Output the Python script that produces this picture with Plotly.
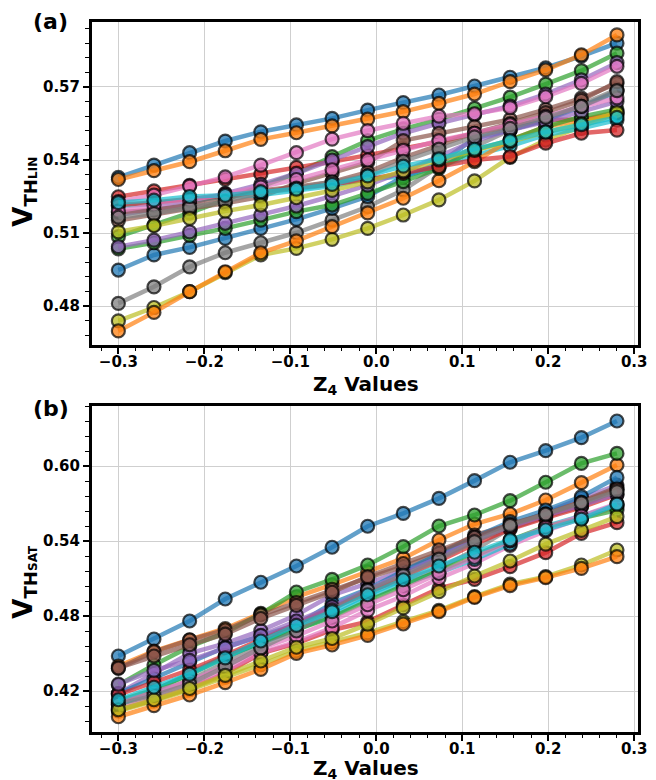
import plotly.graph_objects as go

# ---------------- data ----------------
z4_values = [-0.3, -0.2586, -0.2171, -0.1757, -0.1343, -0.0929, -0.0514, -0.01,
             0.0314, 0.0729, 0.1143, 0.1557, 0.1971, 0.2386, 0.28]

colors = ['#1f77b4', '#ff7f0e', '#2ca02c', '#d62728', '#9467bd',
          '#8c564b', '#e377c2', '#7f7f7f', '#bcbd22', '#17becf']

# (a) V_TH_LIN series
vth_lin = [
    [0.5329, 0.5379, 0.5430, 0.5478, 0.5516, 0.5544, 0.5571, 0.5605, 0.5636, 0.5667, 0.5704, 0.5740, 0.5779, 0.5827, 0.5880],
    [0.5320, 0.5356, 0.5393, 0.5438, 0.5485, 0.5512, 0.5540, 0.5568, 0.5599, 0.5633, 0.5671, 0.5722, 0.5770, 0.5832, 0.5914],
    [0.5085, 0.5133, 0.5183, 0.5236, 0.5290, 0.5345, 0.5414, 0.5480, 0.5527, 0.5567, 0.5612, 0.5658, 0.5712, 0.5767, 0.5839],
    [0.5249, 0.5273, 0.5296, 0.5321, 0.5342, 0.5370, 0.5393, 0.5420, 0.5448, 0.5475, 0.5510, 0.5537, 0.5564, 0.5566, 0.5585],
    [0.5174, 0.5195, 0.5220, 0.5263, 0.5300, 0.5345, 0.5400, 0.5455, 0.5510, 0.5551, 0.5585, 0.5622, 0.5671, 0.5729, 0.5800],
    [0.5151, 0.5178, 0.5201, 0.5222, 0.5249, 0.5304, 0.5345, 0.5390, 0.5480, 0.5510, 0.5537, 0.5567, 0.5608, 0.5654, 0.5715],
    [0.5229, 0.5256, 0.5293, 0.5331, 0.5379, 0.5430, 0.5486, 0.5521, 0.5551, 0.5580, 0.5590, 0.5615, 0.5660, 0.5715, 0.5785],
    [0.4811, 0.4879, 0.4961, 0.5019, 0.5060, 0.5101, 0.5153, 0.5208, 0.5277, 0.5373, 0.5455, 0.5523, 0.5564, 0.5626, 0.5690],
    [0.4739, 0.4794, 0.4859, 0.4937, 0.5010, 0.5037, 0.5074, 0.5119, 0.5174, 0.5236, 0.5314, 0.5411, 0.5482, 0.5537, 0.5592],
    [0.5211, 0.5219, 0.5233, 0.5249, 0.5256, 0.5274, 0.5293, 0.5323, 0.5331, 0.5373, 0.5420, 0.5457, 0.5503, 0.5530, 0.5564],
    [0.4948, 0.5010, 0.5041, 0.5078, 0.5119, 0.5156, 0.5201, 0.5250, 0.5331, 0.5386, 0.5489, 0.5523, 0.5564, 0.5619, 0.5681],
    [0.4698, 0.4774, 0.4859, 0.4941, 0.5019, 0.5068, 0.5126, 0.5183, 0.5243, 0.5315, 0.5393, 0.5482, 0.5537, 0.5564, 0.5598],
    [0.5035, 0.5060, 0.5090, 0.5119, 0.5153, 0.5188, 0.5215, 0.5263, 0.5311, 0.5366, 0.5441, 0.5482, 0.5537, 0.5578, 0.5608],
    [0.5215, 0.5225, 0.5240, 0.5255, 0.5270, 0.5285, 0.5300, 0.5320, 0.5345, 0.5373, 0.5400, 0.5414, 0.5469, 0.5510, 0.5523],
    [0.5044, 0.5071, 0.5105, 0.5140, 0.5174, 0.5211, 0.5252, 0.5297, 0.5352, 0.5414, 0.5479, 0.5523, 0.5557, 0.5599, 0.5640],
    [0.5185, 0.5195, 0.5215, 0.5245, 0.5275, 0.5290, 0.5310, 0.5350, 0.5410, 0.5460, 0.5510, 0.5550, 0.5595, 0.5645, 0.5722],
    [0.5190, 0.5215, 0.5235, 0.5260, 0.5290, 0.5320, 0.5360, 0.5400, 0.5440, 0.5480, 0.5510, 0.5545, 0.5580, 0.5620, 0.5655],
    [0.5165, 0.5180, 0.5205, 0.5230, 0.5265, 0.5285, 0.5310, 0.5335, 0.5395, 0.5445, 0.5495, 0.5530, 0.5575, 0.5620, 0.5685],
    [0.5105, 0.5130, 0.5160, 0.5190, 0.5215, 0.5245, 0.5275, 0.5310, 0.5355, 0.5400, 0.5440, 0.5475, 0.5515, 0.5550, 0.5595],
    [0.5225, 0.5235, 0.5250, 0.5255, 0.5270, 0.5280, 0.5300, 0.5335, 0.5375, 0.5405, 0.5445, 0.5480, 0.5515, 0.5545, 0.5575],
]

# (b) V_TH_SAT series
vth_sat = [
    [0.4480, 0.4616, 0.4760, 0.4936, 0.5070, 0.5200, 0.5350, 0.5518, 0.5621, 0.5741, 0.5883, 0.6030, 0.6123, 0.6227, 0.6360],
    [0.4400, 0.4520, 0.4610, 0.4700, 0.4821, 0.4954, 0.5050, 0.5154, 0.5261, 0.5408, 0.5536, 0.5616, 0.5728, 0.5867, 0.6008],
    [0.4248, 0.4408, 0.4555, 0.4667, 0.4816, 0.4992, 0.5093, 0.5208, 0.5355, 0.5520, 0.5608, 0.5723, 0.5870, 0.6021, 0.6101],
    [0.4048, 0.4128, 0.4221, 0.4341, 0.4501, 0.4581, 0.4688, 0.4754, 0.4888, 0.5021, 0.5093, 0.5195, 0.5307, 0.5461, 0.5547],
    [0.4180, 0.4341, 0.4501, 0.4581, 0.4683, 0.4808, 0.4968, 0.5061, 0.5170, 0.5270, 0.5400, 0.5510, 0.5630, 0.5740, 0.5848],
    [0.4381, 0.4514, 0.4608, 0.4688, 0.4808, 0.4907, 0.5013, 0.5105, 0.5195, 0.5301, 0.5448, 0.5528, 0.5621, 0.5715, 0.5830],
    [0.4060, 0.4155, 0.4245, 0.4365, 0.4505, 0.4594, 0.4707, 0.4845, 0.4960, 0.5100, 0.5220, 0.5365, 0.5480, 0.5580, 0.5675],
    [0.4100, 0.4180, 0.4288, 0.4427, 0.4580, 0.4720, 0.4870, 0.5000, 0.5088, 0.5181, 0.5328, 0.5501, 0.5595, 0.5680, 0.5813],
    [0.4040, 0.4120, 0.4210, 0.4310, 0.4410, 0.4520, 0.4590, 0.4665, 0.4755, 0.4845, 0.4955, 0.5055, 0.5115, 0.5208, 0.5328],
    [0.4088, 0.4202, 0.4341, 0.4480, 0.4581, 0.4688, 0.4803, 0.4945, 0.5061, 0.5146, 0.5253, 0.5376, 0.5520, 0.5600, 0.5688],
    [0.4180, 0.4300, 0.4430, 0.4550, 0.4640, 0.4728, 0.4901, 0.5015, 0.5160, 0.5300, 0.5430, 0.5555, 0.5648, 0.5755, 0.5909],
    [0.3994, 0.4083, 0.4168, 0.4267, 0.4373, 0.4501, 0.4568, 0.4645, 0.4736, 0.4835, 0.4949, 0.5043, 0.5107, 0.5181, 0.5275],
    [0.4120, 0.4210, 0.4330, 0.4470, 0.4590, 0.4690, 0.4790, 0.4920, 0.5040, 0.5165, 0.5290, 0.5405, 0.5515, 0.5580, 0.5648],
    [0.4170, 0.4270, 0.4370, 0.4485, 0.4615, 0.4740, 0.4865, 0.4980, 0.5115, 0.5240, 0.5375, 0.5495, 0.5585, 0.5670, 0.5770],
    [0.4255, 0.4365, 0.4445, 0.4545, 0.4645, 0.4760, 0.4875, 0.5010, 0.5140, 0.5270, 0.5410, 0.5515, 0.5605, 0.5685, 0.5775],
    [0.4385, 0.4480, 0.4570, 0.4655, 0.4780, 0.4885, 0.4990, 0.5115, 0.5220, 0.5330, 0.5430, 0.5535, 0.5615, 0.5710, 0.5815],
    [0.4110, 0.4190, 0.4280, 0.4400, 0.4540, 0.4640, 0.4760, 0.4890, 0.5010, 0.5140, 0.5270, 0.5400, 0.5510, 0.5600, 0.5700],
    [0.4095, 0.4165, 0.4255, 0.4395, 0.4545, 0.4680, 0.4850, 0.5005, 0.5125, 0.5255, 0.5395, 0.5525, 0.5615, 0.5705, 0.5795],
    [0.4050, 0.4130, 0.4220, 0.4325, 0.4440, 0.4550, 0.4620, 0.4735, 0.4865, 0.4995, 0.5120, 0.5240, 0.5375, 0.5485, 0.5595],
    [0.4130, 0.4230, 0.4335, 0.4465, 0.4600, 0.4725, 0.4835, 0.4970, 0.5090, 0.5200, 0.5310, 0.5410, 0.5490, 0.5575, 0.5695],
]

x_tick_vals = [-0.3, -0.2, -0.1, 0.0, 0.1, 0.2, 0.3]
ya_tick_vals = [0.48, 0.51, 0.54, 0.57]
yb_tick_vals = [0.42, 0.48, 0.54, 0.60]


def rgba(hex_color, a):
    h = hex_color.lstrip('#')
    r, g, b = int(h[0:2], 16), int(h[2:4], 16), int(h[4:6], 16)
    return f'rgba({r},{g},{b},{a})'


fig = go.Figure()

for panel, (series, xa, ya) in enumerate([(vth_lin, 'x', 'y'), (vth_sat, 'x2', 'y2')]):
    for k, vals in enumerate(series):
        c = colors[k % 10]
        fig.add_trace(go.Scatter(
            x=z4_values, y=vals, xaxis=xa, yaxis=ya, mode='lines+markers',
            line=dict(color=rgba(c, 0.7), width=4.5),
            marker=dict(size=13, color=rgba(c, 0.75),
                        line=dict(color='rgba(0,0,0,0.7)', width=2.2)),
            showlegend=False, hoverinfo='skip'))

W, H = 656, 780
left, right = 93, 647
tick_font = dict(family='DejaVu Sans', size=15, color='black', weight='bold')

xcommon = dict(
    range=[-0.331, 0.3046], tickvals=x_tick_vals, tickformat='.1f',
    showline=True, linecolor='black', linewidth=2.5, mirror=True,
    ticks='outside', ticklen=6, tickwidth=1.8, tickcolor='black',
    showgrid=True, gridcolor='#cfcfcf', gridwidth=1, zeroline=False,
    tickfont=tick_font, ticklabeloverflow='allow', ticklabelstandoff=-5,
    minor=dict(tick0=0, dtick=0.02, ticks='outside', ticklen=3.5,
               tickwidth=1.2, tickcolor='black', showgrid=False),
)

ycommon = dict(
    showline=True, linecolor='black', linewidth=2.5, mirror=True,
    ticks='outside', ticklen=6, tickwidth=1.8, tickcolor='black',
    showgrid=True, gridcolor='#cfcfcf', gridwidth=1, zeroline=False,
    tickfont=tick_font, tickformat='.2f',
)

fig.update_layout(
    width=W, height=H, margin=dict(l=0, r=0, t=0, b=0),
    plot_bgcolor='white', paper_bgcolor='white',
    xaxis=dict(domain=[left / W, right / W], anchor='y', **xcommon),
    yaxis=dict(domain=[1 - 345 / H, 1 - 22 / H], anchor='x',
               range=[0.464, 0.5967], tickvals=ya_tick_vals,
               minor=dict(tick0=0.48, dtick=0.006, ticks='outside', ticklen=3.5,
                          tickwidth=1.2, tickcolor='black', showgrid=False),
               **ycommon),
    xaxis2=dict(domain=[left / W, right / W], anchor='y2', **xcommon),
    yaxis2=dict(domain=[1 - 732 / H, 1 - 406 / H], anchor='x2',
                range=[0.3872, 0.648], tickvals=yb_tick_vals,
                minor=dict(tick0=0.42, dtick=0.012, ticks='outside', ticklen=3.5,
                           tickwidth=1.2, tickcolor='black', showgrid=False),
                **ycommon),
)

lab_font = dict(family='DejaVu Sans', size=20, color='black', weight='bold')
ylab_font = dict(family='DejaVu Sans', size=26, color='black', weight='bold')
panel_font = dict(family='DejaVu Sans', size=22, color='black', weight='bold')

annotations = [
    dict(text='(a)', x=51 / W, y=1 - 21 / H, font=panel_font),
    dict(text='(b)', x=52 / W, y=1 - 408 / H, font=panel_font),
    dict(text='Z<sub>4</sub> Values', x=371 / W, y=1 - 385 / H, font=lab_font),
    dict(text='Z<sub>4</sub> Values', x=371 / W, y=1 - 769 / H, font=lab_font),
    dict(text="V<sub>TH<span style='font-size:12px'>LIN</span></sub>",
         x=24 / W, y=1 - 192 / H, textangle=-90, font=ylab_font),
    dict(text="V<sub>TH<span style='font-size:12px'>SAT</span></sub>",
         x=24 / W, y=1 - 582 / H, textangle=-90, font=ylab_font),
]
for a in annotations:
    a.update(xref='paper', yref='paper', showarrow=False,
             xanchor='center', yanchor='middle')
fig.update_layout(annotations=annotations)

fig.write_html('out.html')
